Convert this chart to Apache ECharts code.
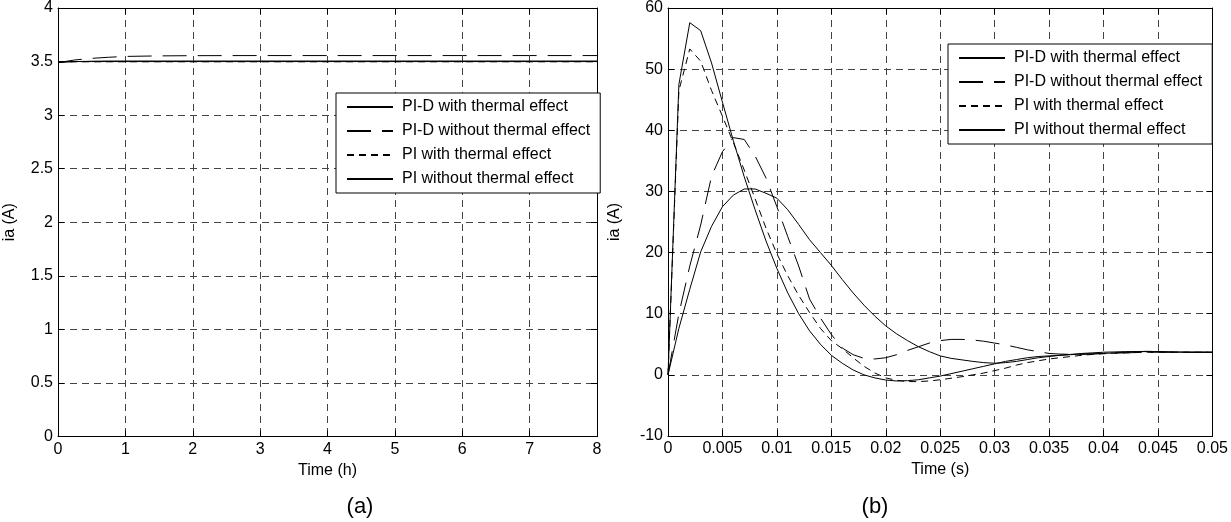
<!DOCTYPE html>
<html>
<head>
<meta charset="utf-8">
<script src="https://cdn.jsdelivr.net/npm/echarts@6/dist/echarts.min.js"></script>
<style>html,body{margin:0;padding:0;background:#fff}#c{width:1231px;height:522px}</style>
</head>
<body>
<div id="c"></div>
<script>
// ---------- data ----------
const seriesNames = ['PI-D with thermal effect', 'PI-D without thermal effect', 'PI with thermal effect', 'PI without thermal effect'];

// (a) long run, time in hours
const timeH = [0, 0.25, 0.5, 0.75, 1, 1.5, 2, 3, 4, 5, 6, 7, 8];
const hPIDwith    = [3.49, 3.50, 3.503, 3.505, 3.505, 3.505, 3.505, 3.505, 3.505, 3.505, 3.505, 3.505, 3.505];
const hPIDwithout = [3.49, 3.515, 3.53, 3.54, 3.548, 3.553, 3.555, 3.556, 3.556, 3.556, 3.556, 3.556, 3.556];
const hPIwith     = [3.498, 3.498, 3.498, 3.498, 3.498, 3.498, 3.498, 3.498, 3.498, 3.498, 3.498, 3.498, 3.498];
const hPIwithout  = [3.50, 3.50, 3.50, 3.50, 3.50, 3.50, 3.50, 3.50, 3.50, 3.50, 3.50, 3.50, 3.50];

// (b) transient, time in seconds
const timeS = [0, 0.001, 0.002, 0.003, 0.004, 0.005, 0.006, 0.007, 0.008, 0.009,
  0.010, 0.011, 0.012, 0.013, 0.014, 0.015, 0.016, 0.017, 0.018, 0.019,
  0.020, 0.021, 0.022, 0.023, 0.024, 0.025, 0.026, 0.027, 0.028, 0.029,
  0.030, 0.031, 0.032, 0.033, 0.034, 0.035, 0.036, 0.037, 0.038, 0.039,
  0.040, 0.041, 0.042, 0.043, 0.044, 0.045, 0.046, 0.047, 0.048, 0.049, 0.050];
const sPIDwith = [0, 7.6, 14.0, 20.1, 24.3, 27.5, 29.4, 30.4, 30.4, 29.7,
  28.9, 27.0, 24.6, 22.1, 20.0, 17.9, 15.6, 13.4, 11.4, 9.6,
  8.0, 6.7, 5.6, 4.6, 3.8, 3.1, 2.7, 2.45, 2.2, 2.0,
  1.9, 2.0, 2.2, 2.5, 2.8, 3.0, 3.2, 3.35, 3.5, 3.6,
  3.7, 3.75, 3.8, 3.8, 3.8, 3.8, 3.75, 3.75, 3.7, 3.7, 3.7];
const sPIDwithout = [0, 10.0, 17.8, 24.5, 32.5, 36.5, 38.8, 38.5, 35.8, 32.2,
  27.5, 22.6, 17.8, 12.4, 9.3, 6.6, 4.4, 3.3, 2.7, 2.6,
  2.8, 3.3, 4.0, 4.6, 5.2, 5.6, 5.8, 5.8, 5.7, 5.5,
  5.2, 4.9, 4.5, 4.1, 3.8, 3.5, 3.4, 3.35, 3.35, 3.4,
  3.5, 3.55, 3.6, 3.65, 3.7, 3.7, 3.7, 3.7, 3.7, 3.7, 3.7];
const sPIwith = [0, 46.5, 53.3, 51.3, 46.5, 42.3, 38.0, 33.5, 28.8, 24.0,
  19.8, 16.2, 13.0, 10.2, 7.6, 5.6, 4.3, 2.8, 1.4, 0.3,
  -0.5, -0.9, -1.1, -1.1, -1.0, -0.8, -0.55, -0.3, 0.0, 0.3,
  0.7, 1.1, 1.6, 2.0, 2.3, 2.6, 2.8, 3.0, 3.2, 3.35,
  3.45, 3.55, 3.6, 3.65, 3.7, 3.7, 3.7, 3.7, 3.7, 3.7, 3.7];
const sPIwithout = [0, 47.5, 57.6, 56.3, 51.0, 44.6, 38.3, 32.4, 27.0, 21.9,
  17.4, 13.4, 10.0, 7.2, 5.0, 3.2, 1.9, 0.8, 0.0, -0.5,
  -0.85, -1.0, -0.95, -0.8, -0.5, -0.2, 0.2, 0.6, 1.0, 1.4,
  1.8, 2.2, 2.5, 2.8, 3.0, 3.1, 3.2, 3.3, 3.4, 3.45,
  3.5, 3.6, 3.7, 3.8, 3.85, 3.8, 3.75, 3.7, 3.7, 3.7, 3.7];

// ---------- styles ----------
const FONT = 'Liberation Sans, Arial, Helvetica, sans-serif';
const lineTypes = ['solid', [24, 11], [7, 5], 'solid'];
const gridDash = {color: '#444', type: [7, 5], width: 1};

function pairs(xs, ys) { return xs.map((x, i) => [x, ys[i]]); }

function mainX(idx, min, max, interval, name, fmt) {
  return {
    type: 'value', gridIndex: idx, min: min, max: max, interval: interval,
    name: name, nameLocation: 'middle', nameGap: 26,
    nameTextStyle: {fontSize: 16, color: '#000', fontFamily: FONT},
    axisLine: {show: true, onZero: false, lineStyle: {color: '#000', width: 1}},
    axisTick: {show: true, inside: true, length: 6, lineStyle: {color: '#000'}},
    axisLabel: {fontSize: 16, color: '#000', fontFamily: FONT, margin: 5, formatter: fmt},
    splitLine: {show: true, lineStyle: gridDash}
  };
}
function mainY(idx, min, max, interval, gap) {
  return {
    type: 'value', gridIndex: idx, min: min, max: max, interval: interval,
    name: 'ia (A)', nameLocation: 'middle', nameGap: gap,
    nameTextStyle: {fontSize: 16, color: '#000', fontFamily: FONT},
    axisLine: {show: true, onZero: false, lineStyle: {color: '#000', width: 1}},
    axisTick: {show: true, inside: true, length: 6, lineStyle: {color: '#000'}},
    axisLabel: {fontSize: 16, color: '#000', fontFamily: FONT, margin: 5},
    splitLine: {show: true, lineStyle: gridDash}
  };
}
function frameAxis(kind, idx, min, max, interval) {
  return {
    type: 'value', gridIndex: idx, min: min, max: max, interval: interval,
    position: kind === 'x' ? 'top' : 'right',
    axisLine: {show: true, onZero: false, lineStyle: {color: '#000', width: 1}},
    axisTick: {show: true, inside: true, length: 6, lineStyle: {color: '#000'}},
    axisLabel: {show: false}, splitLine: {show: false}
  };
}

const fmtS = v => String(Math.round(v * 1000) / 1000);

const dataA = [hPIDwith, hPIDwithout, hPIwith, hPIwithout];
const dataB = [sPIDwith, sPIDwithout, sPIwith, sPIwithout];

const series = [];
dataA.forEach((ys, i) => series.push({
  type: 'line', name: seriesNames[i], xAxisIndex: 0, yAxisIndex: 0,
  data: pairs(timeH, ys), symbol: 'none', showSymbol: false, animation: false,
  lineStyle: {color: '#000', width: 1, type: lineTypes[i]}, itemStyle: {color: '#000'}
}));
dataB.forEach((ys, i) => series.push({
  type: 'line', name: seriesNames[i], xAxisIndex: 1, yAxisIndex: 1,
  data: pairs(timeS, ys), symbol: 'none', showSymbol: false, animation: false,
  lineStyle: {color: '#000', width: 1, type: lineTypes[i]}, itemStyle: {color: '#000'}
}));

const legendBase = {
  orient: 'vertical', data: seriesNames, selectedMode: false,
  backgroundColor: '#fff', borderColor: '#000', borderWidth: 1,
  padding: [6, 10, 6, 10], itemGap: 8, itemWidth: 46, itemHeight: 14,
  itemStyle: {opacity: 0, borderWidth: 0},
  textStyle: {fontSize: 16, color: '#000', fontFamily: FONT, padding: [0, 0, 0, 4]}
};

const option = {
  animation: false,
  backgroundColor: '#fff',
  grid: [
    {left: 58, top: 8, width: 539, height: 428.5, containLabel: false},
    {left: 668, top: 8, width: 544.5, height: 428, containLabel: false}
  ],
  xAxis: [
    mainX(0, 0, 8, 1, 'Time (h)'),
    mainX(1, 0, 0.05, 0.005, 'Time (s)', fmtS),
    frameAxis('x', 0, 0, 8, 1),
    frameAxis('x', 1, 0, 0.05, 0.005)
  ],
  yAxis: [
    mainY(0, 0, 4, 0.5, 40),
    mainY(1, -10, 60, 10, 45),
    frameAxis('y', 0, 0, 4, 0.5),
    frameAxis('y', 1, -10, 60, 10)
  ],
  legend: [
    Object.assign({}, legendBase, {left: 336, top: 93}),
    Object.assign({}, legendBase, {left: 948, top: 44})
  ],
  graphic: [
    {type: 'text', x: 360, y: 507, style: {text: '(a)', fontSize: 22, fontFamily: FONT, fill: '#000', align: 'center', verticalAlign: 'middle'}},
    {type: 'text', x: 875, y: 507, style: {text: '(b)', fontSize: 22, fontFamily: FONT, fill: '#000', align: 'center', verticalAlign: 'middle'}}
  ],
  series: series
};

const chart = echarts.init(document.getElementById('c'), null, {renderer: 'canvas'});
chart.setOption(option);
</script>
</body>
</html>
